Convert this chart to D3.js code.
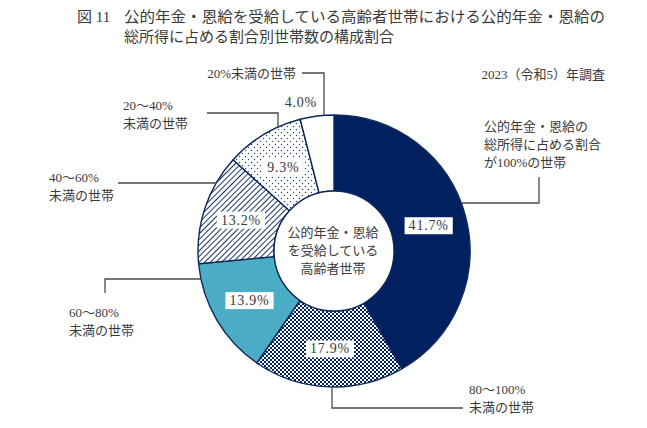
<!DOCTYPE html>
<html><head><meta charset="utf-8">
<script src="https://cdn.jsdelivr.net/npm/d3@7"></script>
<style>
html,body{margin:0;padding:0;background:#fff;}
svg{display:block;}
text{font-family:"Liberation Serif","Noto Sans CJK JP",serif;fill:#3a3a3a;}
</style></head>
<body>
<div id="chart"></div>
<script>
// ---- data ----
const titleNumber = "図 11";
const titleLines = ["公的年金・恩給を受給している高齢者世帯における公的年金・恩給の", "総所得に占める割合別世帯数の構成割合"];
const surveyNote = "2023（令和5）年調査";
const centerLines = ["公的年金・恩給", "を受給している", "高齢者世帯"];
const categories = ["100%", "80～100%未満", "60～80%未満", "40～60%未満", "20～40%未満", "20%未満"];
const categoryLabelLines = [
  ["公的年金・恩給の", "総所得に占める割合", "が100%の世帯"],
  ["80～100%", "未満の世帯"],
  ["60～80%", "未満の世帯"],
  ["40～60%", "未満の世帯"],
  ["20～40%", "未満の世帯"],
  ["20%未満の世帯"]
];
const values = [41.7, 17.9, 13.9, 13.2, 9.3, 4.0];

// ---- layout ----
const W = 647, H = 428;
const cx = 334, cy = 251, R = 136, r0 = 60;
const navy = "#002060", lightBlue = "#4bacc6", edge = "#0d2a5c";

const svg = d3.select("#chart").append("svg").attr("width", W).attr("height", H);
const defs = svg.append("defs");

// checker pattern
const pc = defs.append("pattern").attr("id","checker").attr("patternUnits","userSpaceOnUse").attr("width",4).attr("height",4);
pc.append("rect").attr("width",4).attr("height",4).attr("fill","#fff");
pc.append("rect").attr("width",2).attr("height",2).attr("fill",navy);
pc.append("rect").attr("x",2).attr("y",2).attr("width",2).attr("height",2).attr("fill",navy);
// diagonal hatch
const ph = defs.append("pattern").attr("id","hatch").attr("patternUnits","userSpaceOnUse").attr("width",4).attr("height",4).attr("patternTransform","rotate(45)");
ph.append("rect").attr("width",4).attr("height",4).attr("fill","#fff");
ph.append("line").attr("x1",0).attr("y1",0).attr("x2",0).attr("y2",4).attr("stroke","#1c3567").attr("stroke-width",2);
// dots
const pd = defs.append("pattern").attr("id","dots").attr("patternUnits","userSpaceOnUse").attr("width",6).attr("height",6);
pd.append("rect").attr("width",6).attr("height",6).attr("fill","#fff");
pd.append("circle").attr("cx",1.5).attr("cy",1.5).attr("r",0.7).attr("fill","#2a3f6e");
pd.append("circle").attr("cx",4.5).attr("cy",4.5).attr("r",0.7).attr("fill","#2a3f6e");

const fills = [navy, "url(#checker)", lightBlue, "url(#hatch)", "url(#dots)", "#fff"];
const color = d3.scaleOrdinal().domain(categories).range(fills);

// title
svg.append("text").attr("x",77).attr("y",17).attr("dominant-baseline","central").style("font-size","15px").text(titleNumber);
titleLines.forEach((t,i)=>{
  svg.append("text").attr("x",124).attr("y",17+i*20).attr("dominant-baseline","central")
    .style("font-size","15px").attr("textLength", i===0?481:null).attr("lengthAdjust","spacingAndGlyphs").text(t);
});
svg.append("text").attr("x",605).attr("y",74).attr("text-anchor","end").attr("dominant-baseline","central")
  .style("font-size","13px").text(surveyNote);

// pie
const pie = d3.pie().sort(null).value(d=>d.v);
const data = categories.map((c,i)=>({c, v: values[i], i}));
const arcs = pie(data);
const arc = d3.arc().innerRadius(r0).outerRadius(R);
const labelArc = d3.arc().innerRadius(98).outerRadius(98);
const g = svg.append("g").attr("transform",`translate(${cx},${cy})`);
g.selectAll("path.slice").data(arcs).join("path").attr("class","slice")
  .attr("d",arc).attr("fill",d=>color(d.data.c)).attr("stroke",edge).attr("stroke-width",1.4).attr("stroke-linejoin","round");
g.append("circle").attr("r",r0).attr("fill","#fff").attr("stroke",edge).attr("stroke-width",1.4);

// center text
centerLines.forEach((t,i)=>{
  g.append("text").attr("x",-1).attr("y",(i-1)*18-1).attr("text-anchor","middle").attr("dominant-baseline","central")
   .style("font-size","13px").text(t);
});

// percent labels
const fmt = v => d3.format(".1f")(v) + "%";
arcs.forEach((d,i)=>{
  if (i === arcs.length-1) return;
  const [x,y] = labelArc.centroid(d);
  const t = g.append("text").attr("x",x).attr("y",y).attr("text-anchor","middle").attr("dominant-baseline","central")
    .style("font-size","14px").style("letter-spacing","0.8px").text(fmt(d.data.v));
  const bb = t.node().getBBox();
  g.insert("rect", "text").attr("x",bb.x-4).attr("y",y-8.5).attr("width",bb.width+8).attr("height",17).attr("fill","#fff");
});
g.selectAll("text").raise();

// leader lines & category labels
const onCircleY = (y, side) => [cx + side*Math.sqrt(R*R-(y-cy)*(y-cy)), y];
const onCircleX = (x, side) => [x, cy + side*Math.sqrt(R*R-(x-cx)*(x-cx))];
const leaders = [
  { pts: [onCircleY(203, 1), [539,203], [539,177]], lx:484, ly:126, anchor:"start" },
  { pts: [onCircleX(332, 1), [332,408], [463,408]], lx:469, ly:389, anchor:"start" },
  { pts: [onCircleY(279, -1), [105,279], [105,293]], lx:69, ly:312, anchor:"start" },
  { pts: [onCircleY(183, -1), [118,183]], lx:49, ly:177, anchor:"start" },
  { pts: [onCircleX(278, -1), [278,113], [207,113]], lx:123, ly:105, anchor:"start" },
  { pts: [onCircleX(324, -1), [324,73], [302,73]], lx:296, ly:73, anchor:"end" }
];
const line = d3.line();
leaders.forEach((L,i)=>{
  svg.append("path").attr("d", line(L.pts)).attr("fill","none").attr("stroke","#4a4a4a").attr("stroke-width",1.3);
  categoryLabelLines[i].forEach((t,j)=>{
    svg.append("text").attr("x",L.lx).attr("y",L.ly+j*18).attr("text-anchor",L.anchor).attr("dominant-baseline","central")
      .style("font-size","13px").text(t);
  });
});
// outside label for smallest slice
svg.append("text").attr("x",317).attr("y",102).attr("text-anchor","end").attr("dominant-baseline","central")
  .style("font-size","14px").style("letter-spacing","0.8px").text(fmt(values[values.length-1]));
</script>
</body></html>
